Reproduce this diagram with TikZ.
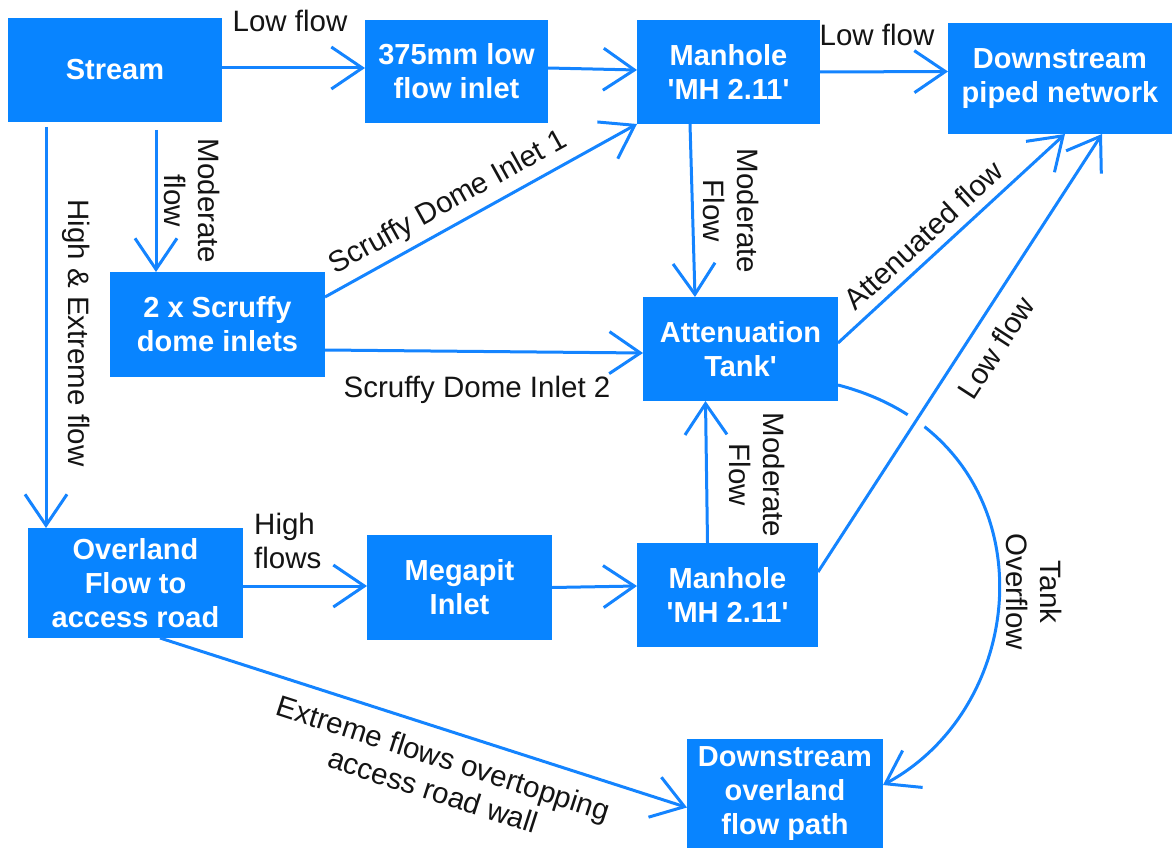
\documentclass[tikz,border=0pt]{standalone}
\usepackage{fontspec}
\setmainfont{Liberation Sans}
\usetikzlibrary{arrows.meta,intersections}
\definecolor{fblue}{RGB}{8,132,255}
\definecolor{lblue}{RGB}{20,132,255}
\definecolor{ink}{RGB}{20,20,20}
\begin{document}
\begin{tikzpicture}[x=1pt,y=-1pt,
  box/.style={fill=fblue, draw=none, text=white, font=\fontsize{29}{34}\selectfont\bfseries, align=center, inner sep=0pt, outer sep=0pt},
  lbl/.style={text=ink, font=\fontsize{29.5}{34}\selectfont, align=center, inner sep=0pt},
  flow/.style={draw=lblue, line width=3pt, -{Straight Barb[length=31pt,width=42pt]}}
]
\useasboundingbox (0,0) rectangle (1172,848);

% boxes
\node[box, minimum width=214pt, minimum height=104pt] (stream) at (115,70) {Stream};
\node[box, minimum width=183pt, minimum height=103pt] (inlet375) at (456.5,71.5) {375mm low\\flow inlet};
\node[box, minimum width=183pt, minimum height=104pt] (mhtop) at (728.5,72) {Manhole\\\textquotesingle MH 2.11\textquotesingle};
\node[box, minimum width=224pt, minimum height=111pt] (dspiped) at (1060,78.5) {Downstream\\piped network};
\node[box, minimum width=215pt, minimum height=105pt] (scruffy) at (217.5,324.5) {2 x Scruffy\\dome inlets};
\node[box, minimum width=195pt, minimum height=104pt] (tank) at (740.5,349) {Attenuation\\Tank\textquotesingle};
\node[box, minimum width=215pt, minimum height=110pt] (overland) at (135.5,583) {Overland\\Flow to\\access road};
\node[box, minimum width=185pt, minimum height=105pt] (megapit) at (459.5,587.5) {Megapit\\Inlet};
\node[box, minimum width=181pt, minimum height=104pt] (mhbot) at (727.5,595) {Manhole\\\textquotesingle MH 2.11\textquotesingle};
\node[box, minimum width=196pt, minimum height=109pt] (dsover) at (785,793.5) {Downstream\\overland\\flow path};

% labels
\node[lbl] (llow1) at (290,21) {Low flow};
\node[lbl] (llow2) at (877,35) {Low flow};
\node[lbl, rotate=-90] (lmod1) at (192.5,201) {Moderate\\flow};
\node[lbl, rotate=-90] (lhigh) at (76,333) {High \& Extreme flow};
\node[lbl, rotate=-90] (lmod2) at (731.5,211) {Moderate\\Flow};
\node[lbl, rotate=-90] (lmod3) at (757.5,475) {Moderate\\Flow};
\node[lbl, rotate=-90] (ltank) at (1034,592) {Tank\\Overflow};
\node[lbl, align=left, anchor=west] (lhf) at (254,540.5) {High\\flows};
\node[lbl] (lsdi2) at (477,389.5) {Scruffy Dome Inlet 2};

% connectors
\draw[flow] ([yshift=2pt]stream.east) -- ([yshift=3.5pt]inlet375.west);
\draw[flow] ([yshift=3.5pt]inlet375.east) -- ([yshift=2pt]mhtop.west);
\draw[flow] (mhtop.east) -- ([yshift=7pt]dspiped.west);
\draw[flow, shorten <=8pt] ([xshift=41pt]stream.south) -- ([xshift=-61.5pt]scruffy.north);
\draw[flow, shorten <=5pt] ([xshift=-69pt]stream.south) -- ([xshift=-89.5pt]overland.north);
\draw[flow] ([yshift=27.5pt]scruffy.east) -- node[lbl, sloped, pos=0.43, above=7pt] {Scruffy Dome Inlet 1} (mhtop.south west);
\draw[flow] ([yshift=-25.5pt]scruffy.east) -- ([yshift=-4pt]tank.west);
\draw[flow] ([xshift=-38.5pt]mhtop.south) -- ([xshift=-45.5pt]tank.north);
\draw[flow] ([yshift=6pt]tank.east) -- node[lbl, sloped, pos=0.44, above=9pt] {Attenuated flow} ([xshift=5pt]dspiped.south);
\draw[flow] ([xshift=-20pt]mhbot.north) -- ([xshift=-35pt]tank.south);
\draw[flow] ([yshift=-3pt]overland.east) -- ([yshift=1.5pt]megapit.west);
\draw[flow] (megapit.east) -- ([yshift=9pt]mhbot.west);
\draw[flow] ([xshift=24.5pt]overland.south) -- node[lbl, sloped, pos=0.554, below=15pt] {Extreme flows overtopping\\access road wall} ([yshift=-14pt]dsover.west);

% low flow from lower manhole, and tank overflow curve with a gap at the crossing
\draw[flow, name path=lowpath] ([yshift=23pt]mhbot.east) -- node[lbl, sloped, pos=0.546, below=15pt] {Low flow} ([xshift=42pt]dspiped.south);
\path[name path=ovfpath] ([yshift=-36pt]tank.east) .. controls (1050,440) and (1040,700) .. ([yshift=8.5pt]dsover.east);
\path[name intersections={of=lowpath and ovfpath, by=X}];
\begin{scope}[even odd rule]
  \clip (0,0) rectangle (1172,848) (X) circle (10.5pt);
  \draw[flow] ([yshift=-36pt]tank.east) .. controls (1050,440) and (1040,700) .. ([yshift=8.5pt]dsover.east);
\end{scope}
\end{tikzpicture}
\end{document}
